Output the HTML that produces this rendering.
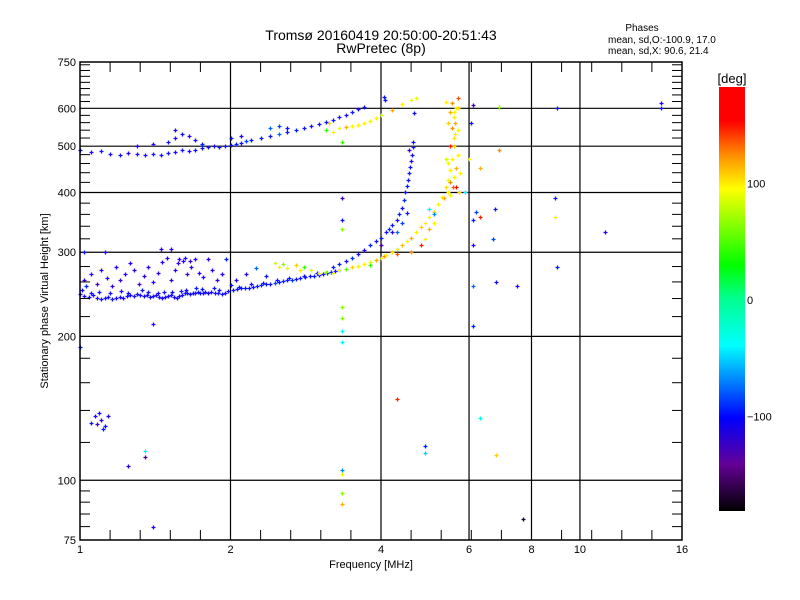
<!DOCTYPE html>
<html><head><meta charset="utf-8"><style>
html,body{margin:0;padding:0;background:#fff;}
svg{display:block;font-family:"Liberation Sans",sans-serif;}
</style></head><body>
<svg id="chart" width="800" height="600" viewBox="0 0 800 600">
<rect width="800" height="600" fill="#fff"/>
<text x="381" y="40" font-size="14" text-anchor="middle">Tromsø 20160419 20:50:00-20:51:43</text>
<text x="381" y="53" font-size="14" text-anchor="middle">RwPretec (8p)</text>
<text x="642" y="31" font-size="10" text-anchor="middle">Phases</text>
<text x="608" y="43" font-size="10">mean, sd,O:-100.9, 17.0</text>
<text x="608" y="54" font-size="10">mean, sd,X:  90.6, 21.4</text>
<g id="grid"></g>
<g id="marks"></g>
<g id="axes"></g>
<text x="371" y="568" font-size="11" text-anchor="middle">Frequency [MHz]</text>
<text transform="translate(48,301) rotate(-90)" font-size="11" text-anchor="middle">Stationary phase Virtual Height [km]</text>
<defs><linearGradient id="cb" x1="0" y1="1" x2="0" y2="0">
<stop offset="0" stop-color="#000"/><stop offset="0.11" stop-color="#640096"/><stop offset="0.22" stop-color="#0000ff"/><stop offset="0.39" stop-color="#00ffff"/><stop offset="0.5" stop-color="#00ff90"/><stop offset="0.58" stop-color="#00ff00"/><stop offset="0.76" stop-color="#ffff00"/><stop offset="0.84" stop-color="#ff8c00"/><stop offset="0.92" stop-color="#ff0000"/><stop offset="1" stop-color="#ff0000"/>
</linearGradient></defs>
<rect x="719" y="87" width="26" height="424" fill="url(#cb)"/>
<text x="732" y="83" font-size="13" text-anchor="middle">[deg]</text>
<g id="cbticks"></g>
</svg>
<script>
const xTicks=[1,2,4,6,8,10,16];
const yTicks=[75,100,200,300,400,500,600,750];
const xGrid=[2,4,6,8,10];
const yGrid=[100,200,300,400,500,600];
const yMinor=[80,85,90,95,120,140,160,180,220,240,260,280,320,340,360,380,420,440,460,480,520,540,560,580,620,640,660,680,700,720,740];
const cbTicks=[100,0,-100];
const lowerTrace=[[1.00,245,-110],[1.02,243,-120],[1.04,242,-110],[1.06,244,-115],[1.08,241,-110],[1.10,240,-120],[1.12,241,-110],[1.14,242,-115],[1.16,240,-110],[1.18,241,-120],[1.20,242,-110],[1.22,241,-125],[1.24,243,-110],[1.26,244,-115],[1.28,243,-110],[1.30,245,-120],[1.32,244,-110],[1.34,243,-115],[1.36,244,-110],[1.38,242,-120],[1.40,243,-110],[1.42,244,-115],[1.44,242,-110],[1.46,241,-120],[1.48,242,-110],[1.50,243,-115],[1.52,244,-110],[1.54,242,-120],[1.56,241,-110],[1.58,243,-115],[1.60,244,-110],[1.62,246,-120],[1.64,247,-110],[1.66,245,-115],[1.68,246,-110],[1.70,247,-120],[1.72,248,-110],[1.74,247,-115],[1.76,246,-110],[1.78,248,-110],[1.80,247,-120],[1.83,248,-110],[1.86,247,-115],[1.89,246,-110],[1.92,245,-110],[1.95,247,-120],[1.98,249,-110],[2.02,250,-110],[2.06,251,-115],[2.10,252,-110],[2.14,252,-100],[2.18,253,-110],[2.22,254,-115],[2.26,255,-110],[2.30,256,-100],[2.35,257,-110],[2.40,258,-110],[2.45,259,-90],[2.50,260,-110],[2.55,261,-100],[2.60,262,-110],[2.65,263,-95],[2.70,264,-110],[2.76,265,-100],[2.82,266,-110],[2.88,267,-110],[2.94,268,-100],[3.00,269,-110],[3.06,270,-110],[3.12,272,-100],[3.18,273,-110],[3.24,274,-110],[3.30,276,-100],[1.01,250,-110],[1.03,255,-100],[1.09,248,-110],[1.21,249,-120],[1.33,250,-110],[1.47,248,-110],[1.59,249,-110],[1.71,252,-100],[1.85,252,-110],[2.00,256,-100],[1.05,247,-110],[1.15,246,-115],[1.25,247,-110],[1.37,248,-110],[1.43,247,-120],[1.53,248,-110],[1.63,250,-115],[1.75,251,-110],[1.90,250,-110],[2.08,254,-100],[2.20,257,-110],[2.32,259,-105],[2.48,262,-110],[2.62,265,-100],[2.80,268,-110],[2.98,272,-100]];
const lowerScatter=[[1.02,262,-130],[1.05,270,-125],[1.08,258,-140],[1.10,275,-130],[1.13,265,-125],[1.16,255,-130],[1.18,280,-120],[1.20,262,-135],[1.23,270,-130],[1.26,285,-125],[1.28,275,-130],[1.31,258,-140],[1.34,268,-130],[1.37,280,-125],[1.40,260,-120],[1.43,272,-130],[1.46,286,-125],[1.49,292,-130],[1.52,262,-135],[1.55,275,-130],[1.58,290,-130],[1.61,288,-125],[1.64,270,-140],[1.67,280,-130],[1.70,290,-125],[1.73,272,-130],[1.76,266,-120],[1.80,290,-130],[1.84,276,-125],[1.88,262,-130],[1.92,270,-125],[1.96,290,-100],[2.05,262,-130],[2.15,270,-120],[2.25,278,-80],[2.35,268,-110],[1.02,300,-110],[1.12,300,-120],[1.45,305,-130],[1.52,305,-130],[1.57,285,-130],[1.62,292,-120],[1.66,288,-135]];
const xTraceLow=[[2.45,285,80],[2.5,280,90],[2.55,283,60],[2.6,278,85],[2.7,282,110],[2.75,276,95],[2.8,280,40],[2.9,275,95],[3.0,272,100],[3.1,273,60],[3.2,272,90],[3.3,275,100],[3.4,277,50],[3.5,279,110],[3.6,281,95],[3.7,283,100],[3.8,286,90],[3.9,289,120],[4.0,292,100],[4.05,294,130],[4.1,296,95],[4.2,300,105],[4.3,305,90],[4.4,310,115],[4.5,316,100],[4.6,322,120],[4.7,330,100],[4.8,338,110],[4.9,346,95],[5.0,355,100],[5.1,365,110],[5.2,378,95],[5.3,392,100],[5.4,410,105],[5.45,425,90],[5.5,445,100],[5.55,470,95],[5.6,500,110],[5.62,530,100],[5.62,560,120],[5.6,590,95],[5.55,615,130],[5.45,400,100],[5.5,420,130],[5.6,430,90],[5.65,450,120],[5.45,460,95],[5.7,480,100],[5.5,500,150],[5.6,520,105],[5.7,540,90],[5.45,560,110],[5.6,575,100],[5.5,590,120],[5.65,600,95],[5.4,620,100],[5.7,630,140],[5.65,410,160],[5.75,440,100],[5.4,470,80],[5.55,545,130],[5.7,600,110],[4.6,300,130],[4.8,310,150],[4.9,320,100],[5.0,335,120],[5.1,345,100],[4.3,298,140],[3.8,282,40],[5.35,390,120],[5.5,395,90],[5.72,400,110],[5.58,410,140]];
const oTraceSteep=[[3.2,279,-110],[3.3,283,-100],[3.4,288,-110],[3.5,292,-95],[3.6,297,-110],[3.7,303,-120],[3.8,310,-100],[3.9,316,-110],[4.0,322,-105],[4.1,330,-110],[4.15,336,-95],[4.2,342,-110],[4.3,350,-120],[4.35,360,-100],[4.4,372,-110],[4.45,385,-95],[4.47,400,-110],[4.5,412,-100],[4.52,425,-110],[4.55,440,-105],[4.58,452,-110],[4.6,465,-120],[4.62,480,-110],[4.63,497,-105],[4.64,510,-110],[4.65,588,-115],[4.3,330,-80],[4.4,345,-90],[4.5,362,-110],[4.2,330,-130],[4.55,490,-140],[4.0,310,-140],[4.05,635,-110],[4.08,625,-100]];
const upperTrace=[[1.0,490,-110],[1.05,485,-120],[1.1,488,-110],[1.15,482,-115],[1.2,480,-110],[1.25,484,-120],[1.3,481,-110],[1.35,479,-115],[1.4,482,-110],[1.45,480,-110],[1.5,483,-110],[1.55,486,-115],[1.6,490,-110],[1.65,488,-120],[1.7,492,-110],[1.75,495,-110],[1.8,498,-110],[1.85,500,-115],[1.9,497,-110],[1.95,500,-110],[2.0,503,-110],[2.05,506,-100],[2.1,508,-110],[2.15,512,-90],[2.2,514,-110],[2.3,520,-100],[2.4,526,-110],[2.5,530,-80],[2.6,535,-110],[2.7,540,-100],[2.8,545,-110],[2.9,550,-110],[3.0,556,-110],[3.1,562,-110],[3.2,568,-110],[3.3,575,-110],[3.4,582,-110],[3.5,590,-110],[3.6,597,-115],[3.7,605,-110],[1.5,510,-110],[1.55,520,-120],[1.6,530,-110],[1.65,525,-130],[1.7,515,-110],[1.75,505,-100],[1.3,500,-120],[1.4,505,-120],[1.55,540,-110],[2.0,520,-110],[2.1,525,-120],[2.4,545,-80],[2.5,550,-90],[2.6,545,-110]];
const upperX=[[3.2,535,100],[3.3,545,90],[3.4,548,120],[3.5,552,100],[3.6,555,95],[3.7,560,100],[3.8,565,90],[3.9,572,100],[4.0,580,80],[4.2,595,120],[4.4,612,100],[4.6,625,95],[4.7,630,85],[3.1,540,40],[3.15,560,110]];
const eLayer=[[1.05,132,-110],[1.07,136,-120],[1.09,138,-110],[1.10,134,-130],[1.12,130,-110],[1.14,136,-120],[1.11,128,-100],[1.08,131,-140]];
const outliers=[[3.35,230,60],[3.35,218,60],[3.35,205,-40],[3.35,195,-40],[3.35,103,90],[3.35,105,-70],[3.35,94,60],[3.35,89,120],[3.35,390,-140],[3.35,350,-110],[3.35,335,60],[3.35,510,40],[1.0,190,-100],[1.4,212,-120],[1.35,115,-40],[1.35,112,-150],[1.25,107,-120],[1.4,80,-130],[4.3,148,150],[4.9,118,-100],[4.9,114,-50],[6.3,135,-40],[6.8,113,110],[7.7,83,-170],[6.1,210,-100],[6.1,255,-80],[6.1,310,-120],[6.1,350,-100],[6.1,610,-140],[6.05,560,-110],[6.3,355,150],[6.2,365,-90],[6.7,320,-90],[6.8,260,-110],[7.5,255,-120],[6.75,370,-110],[6.9,605,60],[6.9,490,130],[8.9,390,-110],[8.9,355,100],[9.0,280,-100],[11.2,330,-120],[14.5,600,-110],[14.5,615,-120],[9.0,600,-110],[6.3,450,120],[6.0,470,100],[5.9,400,-40],[5.0,370,-40],[5.1,360,-70]];

const PL=80,PR=682,PT=62,PB=540;
function xs(f){return PL+(PR-PL)*Math.log2(f)/4;}
function ys(h){return PB-(PB-PT)*Math.log10(h/75);}
const NS='http://www.w3.org/2000/svg';
function mk(tag,attrs,parent){const e=document.createElementNS(NS,tag);for(const k in attrs)e.setAttribute(k,attrs[k]);parent.appendChild(e);return e;}
const stops=[[-180,[0,0,0]],[-150,[80,0,160]],[-125,[40,0,255]],[-100,[0,30,255]],[-70,[0,140,255]],[-37,[0,255,255]],[0,[0,255,144]],[28,[0,255,0]],[85,[230,255,0]],[100,[255,240,0]],[130,[255,140,0]],[155,[255,0,0]],[180,[255,0,0]]];
function col(p){for(let i=0;i<stops.length-1;i++){const a=stops[i],b=stops[i+1];if(p<=b[0]){const t=Math.max(0,(p-a[0])/(b[0]-a[0]));const c=a[1].map((v,j)=>Math.round(v+(b[1][j]-v)*t));return 'rgb('+c.join(',')+')';}}return 'rgb(255,0,0)';}
const grid=document.getElementById('grid'),axes=document.getElementById('axes'),marks=document.getElementById('marks'),cbg=document.getElementById('cbticks');
xGrid.forEach(f=>{const l=mk('line',{x1:xs(f),x2:xs(f),y1:PT,y2:PB,stroke:'#000','stroke-width':1.2},grid);

});
yGrid.forEach(h=>{const l=mk('line',{x1:PL,x2:PR,y1:ys(h),y2:ys(h),stroke:'#000','stroke-width':1.2},grid);

});
const series=[lowerTrace,lowerScatter,xTraceLow,oTraceSteep,upperTrace,upperX,eLayer,outliers];
series.forEach(s=>s.forEach(d=>{const x=Math.round(xs(d[0]))+0.5,y=Math.round(ys(d[1]))+0.5,c=col(d[2]);
const g=mk('path',{d:`M${x-2},${y}H${x+2}M${x},${y-2}V${y+2}`,stroke:c,'stroke-width':1.3},marks);

}));
const fr=mk('rect',{x:PL,y:PT,width:PR-PL,height:PB-PT,fill:'none',stroke:'#000','stroke-width':1.5},axes);


for(let k=1;k<20;k++){const x=PL+(PR-PL)*k/20;mk('line',{x1:x,x2:x,y1:PB,y2:PB-10,stroke:'#000'},axes);mk('line',{x1:x,x2:x,y1:PT,y2:PT+10,stroke:'#000'},axes);}
yMinor.forEach(h=>{const y=ys(h);mk('line',{x1:PL,x2:PL+10,y1:y,y2:y,stroke:'#000'},axes);mk('line',{x1:PR,x2:PR-10,y1:y,y2:y,stroke:'#000'},axes);});
xTicks.forEach(f=>{const t=mk('text',{x:xs(f),y:553,'font-size':11,'text-anchor':'middle'},axes);t.textContent=f;

});
yTicks.forEach(h=>{const t=mk('text',{x:76,y:ys(h)+4,'font-size':11,'text-anchor':'end'},axes);t.textContent=h;

});
cbTicks.forEach(v=>{const y=300-v*1.165;const t=mk('text',{x:747,y:y+4,'font-size':11},cbg);t.textContent=v===-100?'\u2212100':v;

});
</script>
</body></html>
